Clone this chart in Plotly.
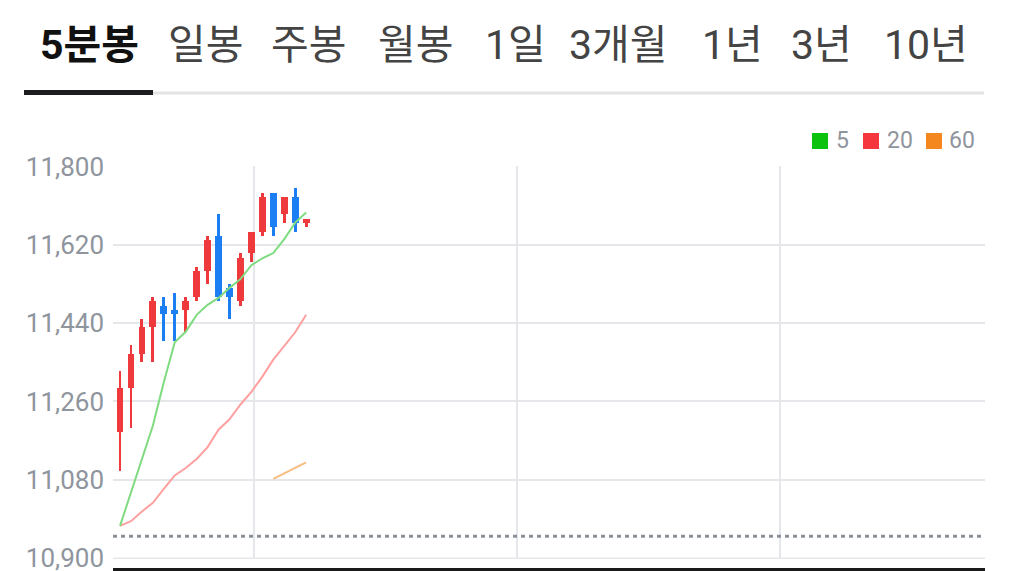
import plotly.graph_objects as go

# ---------------- data ----------------
tabs = ["5분봉", "일봉", "주봉", "월봉", "1일", "3개월", "1년", "3년", "10년"]

opens  = [11190, 11290, 11370, 11430, 11480, 11470, 11470, 11500, 11560,
          11640, 11520, 11490, 11600, 11650, 11740, 11690, 11730, 11670]
highs  = [11330, 11390, 11450, 11500, 11500, 11510, 11500, 11570, 11640,
          11690, 11530, 11600, 11650, 11740, 11740, 11730, 11750, 11680]
lows   = [11100, 11200, 11350, 11350, 11400, 11400, 11420, 11490, 11530,
          11490, 11450, 11480, 11580, 11640, 11640, 11670, 11650, 11660]
closes = [11290, 11370, 11430, 11490, 11460, 11460, 11490, 11560, 11630,
          11500, 11500, 11590, 11650, 11730, 11660, 11730, 11670, 11680]

ma5  = [10974, 11050, 11126, 11204, 11304, 11396, 11420, 11459, 11482,
        11498, 11521, 11541, 11573, 11589, 11601, 11633, 11671, 11694]
ma20 = [10974, 10985, 11007, 11027, 11059, 11090, 11107, 11128, 11155,
        11195, 11219, 11253, 11282, 11317, 11356, 11387, 11419, 11459]
ma60_x = [14, 15, 16, 17]
ma60 = [11082, 11095, 11107, 11120]

legend_labels = ["5", "20", "60"]
prev_close = 10950
y_ticks = [10900, 11080, 11260, 11440, 11620, 11800]
x_grid = [12.25, 36.25, 60.25]

# ---------------- styling ----------------
UP = "#ef3a3d"
DOWN = "#1b7ef2"
MA_COLORS = ["#7fdb7f", "#ffa0a0", "#f9bd82"]
LEG_COLORS = ["#0cc20c", "#f5363f", "#f5871f"]
GRID = "#e5e7eb"
LABEL = "#8f959d"

W, H = 1026, 571
PL, PR, PT, PB = 113, 985, 166, 559


def xp(px):
    return (px - PL) / (PR - PL)


def yp(py):
    return (PB - py) / (PB - PT)


x = list(range(len(opens)))
colors = [UP if c >= o else DOWN for o, c in zip(opens, closes)]

fig = go.Figure()

# moving averages (drawn under candles)
fig.add_trace(go.Scatter(x=x, y=ma20, mode="lines",
                         line=dict(color=MA_COLORS[1], width=2), hoverinfo="skip"))
fig.add_trace(go.Scatter(x=ma60_x, y=ma60, mode="lines",
                         line=dict(color=MA_COLORS[2], width=2), hoverinfo="skip"))
fig.add_trace(go.Scatter(x=x, y=ma5, mode="lines",
                         line=dict(color=MA_COLORS[0], width=2), hoverinfo="skip"))

# wicks
fig.add_trace(go.Bar(x=x, y=[h - l for h, l in zip(highs, lows)], base=lows,
                     width=0.26, marker=dict(color=colors, line=dict(width=0)),
                     hoverinfo="skip"))
# bodies
body_h = [max(abs(c - o), 3) for o, c in zip(opens, closes)]
body_b = [min(o, c) for o, c in zip(opens, closes)]
fig.add_trace(go.Bar(x=x, y=body_h, base=body_b,
                     width=0.62, marker=dict(color=colors, line=dict(width=0)),
                     hoverinfo="skip"))

shapes = []
# bottom gridline (edge gridline)
shapes.append(dict(type="line", xref="paper", yref="y", x0=0, x1=1,
                   y0=y_ticks[0], y1=y_ticks[0], layer="below",
                   line=dict(color=GRID, width=1.5)))
# previous close dashed line
shapes.append(dict(type="line", xref="paper", yref="y", x0=0, x1=1,
                   y0=prev_close, y1=prev_close,
                   line=dict(color="#8a9099", width=3, dash="4px,4px")))
# bottom black axis line
shapes.append(dict(type="rect", xref="paper", yref="paper",
                   x0=0, x1=1, y0=yp(571), y1=yp(568),
                   fillcolor="#1a1a1a", line=dict(width=0)))
# tab underline
shapes.append(dict(type="rect", xref="paper", yref="paper",
                   x0=xp(152), x1=xp(984), y0=yp(94.5), y1=yp(91.5),
                   fillcolor="#e4e4e4", line=dict(width=0)))
shapes.append(dict(type="rect", xref="paper", yref="paper",
                   x0=xp(24), x1=xp(153), y0=yp(95), y1=yp(90),
                   fillcolor="#1c1c1e", line=dict(width=0)))

annotations = []
tab_centers = [89.5, 205.8, 308.5, 415.8, 515.3, 618.3, 732.8, 821.7, 925.8]
for i, (t, cx) in enumerate(zip(tabs, tab_centers)):
    sel = i == 0
    annotations.append(dict(
        text=("<b>%s</b>" % t) if sel else t, x=xp(cx), y=yp(45),
        xref="paper", yref="paper", xanchor="center", yanchor="middle",
        showarrow=False,
        font=dict(family="Roboto, 'Noto Sans CJK KR', sans-serif", size=41,
                  color="#111111" if sel else "#444444")))

# legend
leg_sq = [812, 863, 926]
leg_tx = [834, 885, 947]
for lab, c, sx, tx in zip(legend_labels, LEG_COLORS, leg_sq, leg_tx):
    shapes.append(dict(type="rect", xref="paper", yref="paper",
                       x0=xp(sx), x1=xp(sx + 16), y0=yp(149), y1=yp(133),
                       fillcolor=c, line=dict(width=0)))
    annotations.append(dict(text=lab, x=xp(tx), y=yp(141), xref="paper", yref="paper",
                            xanchor="left", yanchor="middle", showarrow=False,
                            font=dict(family="Roboto", size=23, color=LABEL)))

fig.update_layout(
    width=W, height=H,
    margin=dict(l=PL, r=W - PR, t=PT, b=H - PB),
    paper_bgcolor="white", plot_bgcolor="white",
    showlegend=False, barmode="overlay", bargap=0,
    shapes=shapes, annotations=annotations,
    xaxis=dict(range=[-0.64, 79.0], tickvals=x_grid, showticklabels=False,
               showgrid=True, gridcolor=GRID, gridwidth=1.5, zeroline=False,
               ticks="", fixedrange=True),
    yaxis=dict(range=[10898, 11801], tickvals=y_ticks,
               ticktext=[f"{v:,}" for v in y_ticks],
               showgrid=True, gridcolor=GRID, gridwidth=1.5, zeroline=False,
               ticks="", ticklabelstandoff=8, ticklabeloverflow="allow",
               automargin=False,
               tickfont=dict(family="Roboto", size=26, color=LABEL),
               fixedrange=True),
)

fig.write_html("out.html", config={"displayModeBar": False},
               post_script="document.body.style.margin='0';document.body.style.overflow='hidden';")
